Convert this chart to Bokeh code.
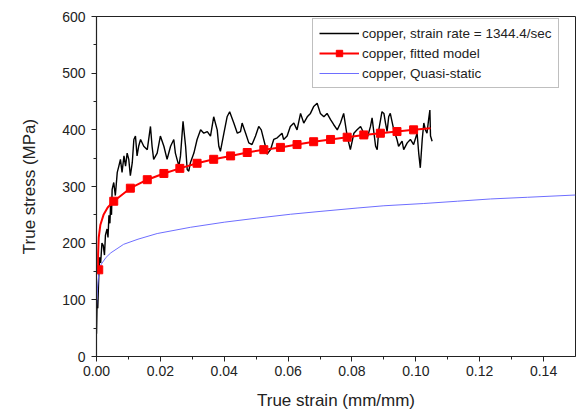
from bokeh.plotting import figure
from bokeh.models import (Range1d, SingleIntervalTicker, PrintfTickFormatter,
                          Legend, LegendItem)
from bokeh.embed import file_html
from bokeh.resources import INLINE

# ---- data ----
exp_strain = [0.0000, 0.0002, 0.0004, 0.0007, 0.0010, 0.0013, 0.0017, 0.0021, 0.0025, 0.0028,
              0.0033, 0.0036, 0.0039, 0.0042, 0.0044, 0.0047, 0.0049, 0.0054, 0.0059, 0.0065,
              0.0070, 0.0075, 0.0080, 0.0086, 0.0091, 0.0096, 0.0101, 0.0106, 0.0112, 0.0117,
              0.0122, 0.0127, 0.0132, 0.0138, 0.0148, 0.0159, 0.0169, 0.0174, 0.0179, 0.0190,
              0.0200, 0.0211, 0.0221, 0.0232, 0.0242, 0.0247, 0.0258, 0.0263, 0.0271, 0.0279,
              0.0284, 0.0289, 0.0294, 0.0305, 0.0315, 0.0326, 0.0336, 0.0347, 0.0357, 0.0367,
              0.0378, 0.0383, 0.0388, 0.0399, 0.0409, 0.0417, 0.0430, 0.0441, 0.0451, 0.0456,
              0.0467, 0.0477, 0.0487, 0.0498, 0.0508, 0.0516, 0.0529, 0.0534, 0.0545, 0.0555,
              0.0566, 0.0581, 0.0586, 0.0597, 0.0607, 0.0618, 0.0628, 0.0639, 0.0649, 0.0660,
              0.0670, 0.0680, 0.0691, 0.0701, 0.0712, 0.0722, 0.0733, 0.0743, 0.0754, 0.0764,
              0.0774, 0.0785, 0.0795, 0.0806, 0.0816, 0.0827, 0.0837, 0.0848, 0.0858, 0.0863,
              0.0874, 0.0879, 0.0884, 0.0894, 0.0900, 0.0905, 0.0910, 0.0915, 0.0920, 0.0931,
              0.0941, 0.0946, 0.0957, 0.0962, 0.0973, 0.0983, 0.0993, 0.1004, 0.1009, 0.1014,
              0.1020, 0.1025, 0.1030, 0.1035, 0.1040, 0.1044, 0.1046, 0.1051]
exp_stress = [40, 100, 85, 140, 175, 165, 200, 196, 179, 214,
              225, 210, 249, 235, 266, 250, 295, 307, 284, 325,
              336, 348, 325, 354, 336, 359, 348, 319, 342, 383,
              389, 354, 371, 383, 371, 365, 406, 371, 348, 359,
              389, 371, 348, 371, 383, 359, 336, 354, 415, 371,
              330, 327, 342, 359, 383, 400, 394, 397, 389, 423,
              400, 371, 362, 394, 423, 432, 412, 394, 397, 412,
              394, 377, 374, 389, 406, 400, 371, 357, 365, 383,
              386, 394, 383, 389, 406, 412, 400, 429, 412, 423,
              429, 441, 447, 429, 423, 429, 418, 409, 400, 412,
              429, 389, 365, 394, 400, 406, 394, 386, 406, 421,
              371, 365, 400, 432, 429, 412, 397, 423, 429, 400,
              383, 371, 380, 365, 377, 383, 374, 394, 359, 333,
              383, 412, 400, 394, 418, 435, 389, 380]

fit_strain = [0.0005, 0.0005, 0.0007, 0.0012, 0.0022, 0.0035, 0.0054, 0.0106, 0.0159, 0.0211,
              0.0261, 0.0315, 0.0367, 0.0420, 0.0472, 0.0524, 0.0576, 0.0628, 0.0680, 0.0733,
              0.0785, 0.0837, 0.0889, 0.0941, 0.0993, 0.1046]
fit_stress = [150, 180, 210, 232, 250, 263, 274, 297, 312, 323,
              332, 341, 348, 354, 360, 365, 369, 374, 379, 383,
              387, 391, 394, 397, 400, 403]

mark_strain = [0.0007, 0.0054, 0.0106, 0.0159, 0.0211, 0.0261, 0.0315, 0.0367, 0.0420, 0.0472,
               0.0524, 0.0576, 0.0628, 0.0680, 0.0733, 0.0785, 0.0837, 0.0889, 0.0941, 0.0993]
mark_stress = [153, 274, 297, 312, 323, 332, 341, 348, 354, 360,
               365, 369, 374, 379, 383, 387, 391, 394, 397, 400]

qs_strain = [0.0, 0.0003, 0.0007, 0.0015, 0.0030, 0.0045, 0.0085, 0.0130, 0.0190, 0.0294,
             0.0400, 0.0500, 0.0607, 0.0700, 0.0816, 0.0900, 0.1025, 0.1130, 0.1234, 0.1350, 0.1500]
qs_stress = [85, 120, 145, 163, 175, 183, 198, 207, 217, 228,
             237, 244, 251, 256, 262, 266, 270, 274, 278, 281, 285]

labels = ["copper, strain rate = 1344.4/sec", "copper, fitted model", "copper, Quasi-static"]

FONT = "Liberation Sans"

p = figure(width=580, height=412, output_backend="svg", toolbar_location=None,
           x_range=Range1d(0, 0.15), y_range=Range1d(0, 600),
           min_border_left=96, min_border_right=5, min_border_top=16, min_border_bottom=53)
p.background_fill_color = "white"
p.border_fill_color = "white"
p.outline_line_color = "#222222"
p.outline_line_width = 1
p.xgrid.visible = False
p.ygrid.visible = False

p.xaxis.ticker = SingleIntervalTicker(interval=0.02, num_minor_ticks=2)
p.yaxis.ticker = SingleIntervalTicker(interval=100, num_minor_ticks=2)
p.xaxis.formatter = PrintfTickFormatter(format="%.2f")
p.yaxis.formatter = PrintfTickFormatter(format="%d")

for ax in (p.xaxis[0], p.yaxis[0]):
    ax.axis_line_color = "#222222"
    ax.axis_line_width = 1.2
    ax.major_tick_line_color = "#222222"
    ax.minor_tick_line_color = "#222222"
    ax.major_tick_in = 0
    ax.major_tick_out = 5
    ax.minor_tick_in = 0
    ax.minor_tick_out = 3
    ax.major_label_text_font = FONT
    ax.major_label_text_font_size = "14px"
    ax.major_label_text_color = "#222222"
    ax.axis_label_text_font = FONT
    ax.axis_label_text_font_size = "17px"
    ax.axis_label_text_font_style = "normal"
    ax.axis_label_text_color = "#222222"

p.xaxis.axis_label = "True strain (mm/mm)"
p.yaxis.axis_label = "True stress (MPa)"
p.xaxis.major_label_standoff = 4
p.xaxis.axis_label_standoff = 12
p.yaxis.major_label_standoff = 6
p.yaxis.axis_label_standoff = 20

r_exp = p.line(exp_strain, exp_stress, line_color="black", line_width=1.4)
r_qs = p.line(qs_strain, qs_stress, line_color="#6e6eff", line_width=1)
r_fit = p.line(fit_strain, fit_stress, line_color="#ff0000", line_width=2)
r_mark = p.scatter(mark_strain, mark_stress, marker="square", size=8,
                   fill_color="#ff0000", line_color="#ff0000")

legend = Legend(items=[LegendItem(label=labels[0], renderers=[r_exp]),
                       LegendItem(label=labels[1], renderers=[r_fit, r_mark]),
                       LegendItem(label=labels[2], renderers=[r_qs])],
                location=(216, 268))
legend.label_text_font = FONT
legend.label_text_font_size = "13.5px"
legend.label_text_color = "#222222"
legend.glyph_width = 40
legend.glyph_height = 16
legend.label_height = 16
legend.label_standoff = 3
legend.spacing = 4
legend.padding = 6
legend.margin = 0
legend.border_line_color = "#808080"
legend.border_line_width = 1
legend.background_fill_alpha = 1
p.add_layout(legend)

open("out.html", "w").write(file_html(p, INLINE))
